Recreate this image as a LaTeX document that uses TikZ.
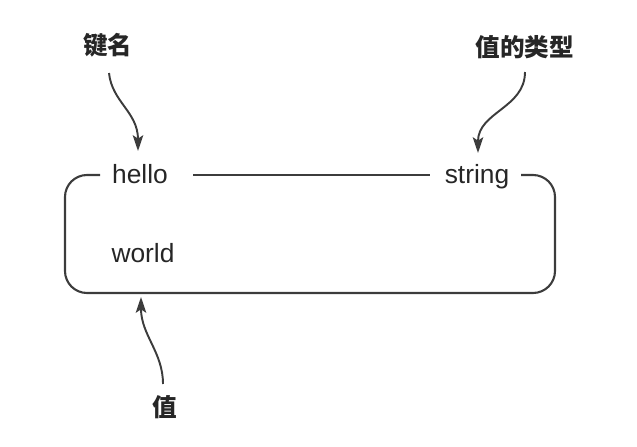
\documentclass[tikz,border=0pt]{standalone}
\usepackage{fontspec}
\setmainfont{Liberation Sans}
\newfontfamily\cjk{Noto Sans CJK SC}
\usetikzlibrary{arrows.meta}
\definecolor{trait}{RGB}{60,60,60}
\tikzset{
  mot/.style={font=\fontsize{15}{18}\selectfont, text=black!85, anchor=base},
  etiq/.style={font=\cjk\bfseries\fontsize{14}{17}\selectfont, text=black!85},
  fleche/.style={line width=1.1pt, draw=trait, -{Stealth[length=9pt,width=6pt,inset=2pt]}}
}

\begin{document}
\begin{tikzpicture}[x=0.02cm,y=-0.02cm]
\useasboundingbox (0,0) rectangle (637,447);
\node[etiq] (nomcle) at (108,45) {键名};
\node[etiq] (typeval) at (525,47) {值的类型};
\node[etiq] (valeur) at (165,407) {值};
\node[mot] (hello) at (140,183) {hello};
\node[mot] (string) at (477,183) {string};
\node[mot] (world) at (143,262) {world};
% bouts des fleches
\coordinate (dep1) at (109,73);
\coordinate (arr1) at (138,151);
\coordinate (dep2) at (525,72);
\coordinate (arr2) at (478,153);
\coordinate (dep3) at (163,384);
\coordinate (arr3) at (141,297);
% la boite
\draw[line width=1.2pt, draw=trait, rounded corners=0.44cm]
      (100,175) -| (65,293) -| (555,175) -- (521,175);
\draw[line width=1.2pt, draw=trait] (193,175) -- (430,175); % entre hello et string
\draw[fleche] (dep1) .. controls (112,102) and (138,112) .. (arr1);
\draw[fleche] (dep2) .. controls (525,108) and (478,112) .. (arr2);
\draw[fleche] (dep3) .. controls (163,352) and (141,335) .. (arr3);
\end{tikzpicture}
\end{document}
